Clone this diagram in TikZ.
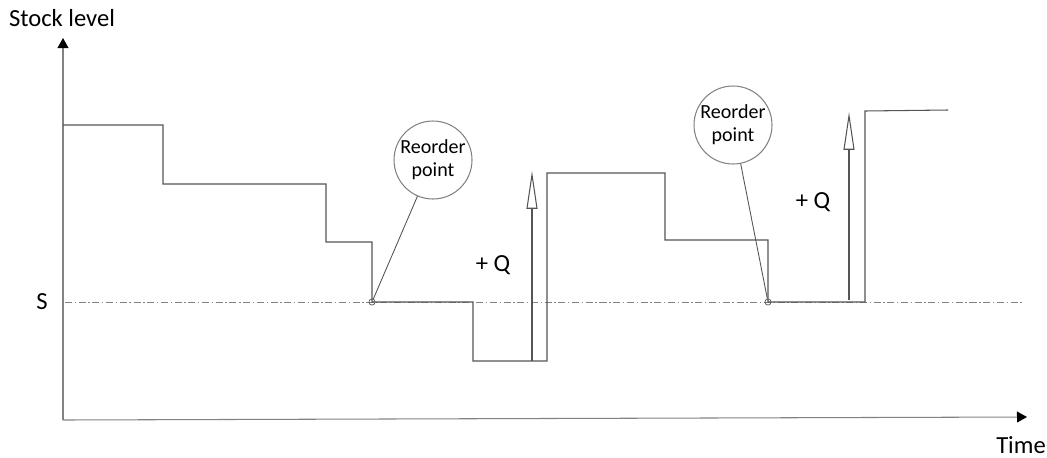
\documentclass[tikz,border=0pt]{standalone}
\usepackage{fontspec}
\setmainfont{Carlito}
\usepackage{tikz}
\usetikzlibrary{arrows.meta}

\definecolor{axisgray}{RGB}{130,130,130}
\definecolor{linegray}{RGB}{85,85,85}

\begin{document}
\begin{tikzpicture}[x=0.02cm,y=-0.02cm,line width=0.6pt,
                    axis/.style={draw=axisgray,-{Triangle[length=5.7pt,width=6.2pt,black]}},
                    stock/.style={draw=linegray},
                    level/.style={draw=axisgray,line width=0.5pt,
                                  dash pattern=on 4pt off 1.5pt on 0.8pt off 1.5pt},
                    order/.style={draw=linegray,-{Triangle[open,length=21.5pt,width=6.2pt]}},
                    bubble/.style={circle,draw=axisgray,minimum size=1.56cm,inner sep=0pt,
                                   align=center,font=\fontsize{11.4}{13}\selectfont},
                    pin/.style={circle,draw=linegray,line width=0.4pt,minimum size=3.5pt,inner sep=0pt},
                    lbl/.style={font=\fontsize{14}{16}\selectfont}]
  \useasboundingbox (0,0) rectangle (1047,457);

  \coordinate (O)  at (63,420);
  \coordinate (Yt) at (63,38);
  \coordinate (Xt) at (1027,417);
  \draw[axis] (O) -- (Yt);
  \draw[axis] (O) -- (Xt);

  \node[lbl]         (ylab) at (62,18)   {Stock level};
  \node[lbl]         (xlab) at (1021,445) {Time};
  \node[lbl]         (slab) at (42,302)  {S};

  \coordinate (S0) at (65,302);
  \coordinate (S1) at (1022,302);
  \draw[level] (S0) -- (S1);

  \draw[stock] (63,125) -| (163,184) -| (326,242) -| (372,302) -| (473,361)
               -| (547,173) -| (665,240) -| (768,302) -| (865,111) -- (948,110);

  \node[pin]    (rp1) at (372,302) {};
  \node[pin]    (rp2) at (768,302) {};
  \node[bubble] (ro1) at (433,160) {Reorder\\point};
  \node[bubble] (ro2) at (733,125) {Reorder\\point};
  \draw[draw=linegray,line width=0.5pt] (rp1) -- (ro1);
  \draw[draw=linegray,line width=0.5pt] (rp2) -- (ro2);

  \coordinate (q1a) at (532,361);
  \coordinate (q1b) at (532,171);
  \coordinate (q2a) at (849,300);
  \coordinate (q2b) at (849,112);
  \draw[order] (q1a) -- (q1b);
  \draw[order] (q2a) -- (q2b);
  \node[lbl]    (q1) at (493,265) {+ Q};
  \node[lbl]    (q2) at (813,202) {+ Q};
\end{tikzpicture}
\end{document}
